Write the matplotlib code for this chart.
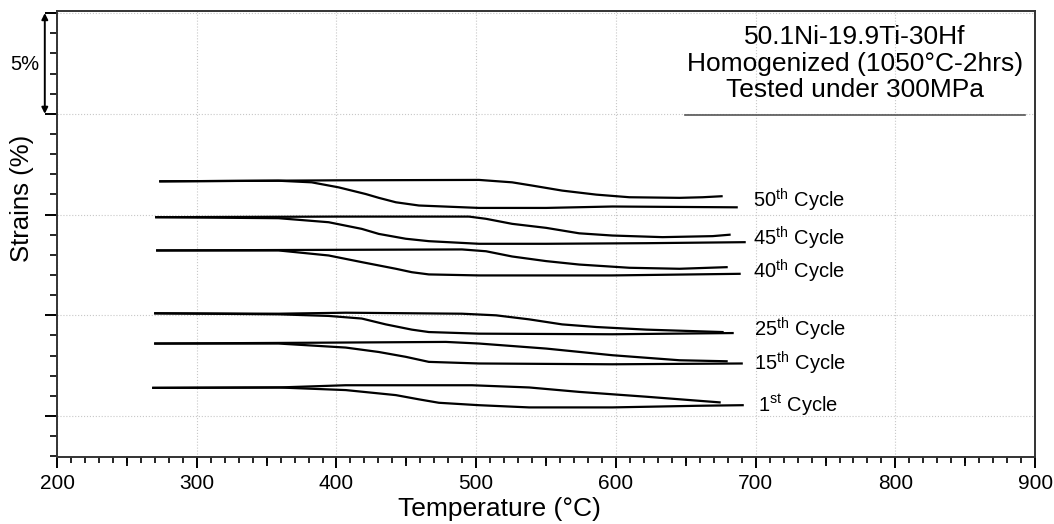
"""
Strain-temperature cycles, 50.1Ni-19.9Ti-30Hf under 300 MPa
"""

import matplotlib
matplotlib.use('Agg')
import matplotlib.pyplot as plt
from matplotlib.ticker import MultipleLocator
import matplotlib.transforms as mtransforms

plt.rcParams['font.family'] = ['Liberation Sans', 'DejaVu Sans']
plt.rcParams['mathtext.fontset'] = 'custom'
plt.rcParams['mathtext.rm'] = 'Liberation Sans'

# ── Data (temperature in °C, strain in %) ──────────────────────
cycle_labels = ['50$^{\\mathrm{th}}$ Cycle', '45$^{\\mathrm{th}}$ Cycle',
                '40$^{\\mathrm{th}}$ Cycle', '25$^{\\mathrm{th}}$ Cycle',
                '15$^{\\mathrm{th}}$ Cycle', '1$^{\\mathrm{st}}$ Cycle']

# upper branch of each loop
t_up_50 = [273.9, 400.0, 502.0, 525.7, 540.0, 561.5, 585.9, 609.6, 645.5, 662.0, 675.6]
s_up_50 = [11.65, 11.70, 11.72, 11.60, 11.44, 11.19, 10.99, 10.86, 10.83, 10.86, 10.91]
# lower branch of each loop
t_lo_50 = [273.9, 358.5, 382.2, 401.6, 420.9, 430.3, 442.5, 459.0, 502.0, 550.1, 597.4, 686.4]
s_lo_50 = [11.65, 11.68, 11.60, 11.35, 11.02, 10.83, 10.61, 10.45, 10.33, 10.33, 10.40, 10.36]

t_up_45 = [271.0, 400.0, 494.8, 507.0, 525.7, 550.1, 573.7, 597.4, 633.3, 669.2, 681.3]
s_up_45 = [9.87, 9.90, 9.90, 9.79, 9.54, 9.34, 9.07, 8.96, 8.88, 8.93, 9.00]
t_lo_45 = [271.0, 358.5, 394.4, 418.1, 430.3, 449.6, 466.1, 502.0, 550.1, 621.8, 692.1]
s_lo_45 = [9.87, 9.82, 9.62, 9.29, 9.04, 8.80, 8.68, 8.55, 8.55, 8.58, 8.63]

t_up_40 = [271.7, 400.0, 489.8, 507.0, 525.7, 550.1, 573.7, 609.6, 645.5, 679.2]
s_up_40 = [8.22, 8.25, 8.27, 8.18, 7.92, 7.69, 7.52, 7.36, 7.31, 7.39]
t_lo_40 = [271.7, 358.5, 394.4, 418.1, 442.5, 453.9, 466.1, 502.0, 597.4, 688.5]
s_lo_40 = [8.22, 8.22, 7.97, 7.64, 7.31, 7.14, 7.03, 6.98, 6.98, 7.06]

t_up_25 = [270.3, 358.5, 406.6, 489.8, 514.2, 537.9, 561.5, 585.9, 621.8, 676.3]
s_up_25 = [5.10, 5.08, 5.13, 5.08, 5.00, 4.80, 4.55, 4.42, 4.29, 4.17]
t_lo_25 = [270.3, 358.5, 394.4, 418.1, 435.3, 453.9, 466.1, 502.0, 597.4, 683.5]
s_lo_25 = [5.10, 5.05, 4.97, 4.84, 4.55, 4.29, 4.17, 4.09, 4.06, 4.12]

t_up_15 = [270.3, 358.5, 478.3, 502.0, 550.1, 597.4, 645.5, 679.2]
s_up_15 = [3.60, 3.63, 3.68, 3.60, 3.35, 3.02, 2.77, 2.72]
t_lo_15 = [270.3, 358.5, 406.6, 430.3, 449.6, 466.1, 502.0, 597.4, 690.0]
s_lo_15 = [3.60, 3.60, 3.40, 3.18, 2.94, 2.69, 2.61, 2.57, 2.61]

t_up_1 = [268.9, 358.5, 406.6, 497.0, 537.9, 573.7, 621.8, 674.2]
s_up_1 = [1.40, 1.42, 1.53, 1.53, 1.42, 1.20, 0.96, 0.68]
t_lo_1 = [268.9, 358.5, 406.6, 442.5, 459.0, 473.3, 502.0, 537.9, 597.4, 657.7, 690.7]
s_lo_1 = [1.40, 1.42, 1.29, 1.04, 0.83, 0.66, 0.54, 0.43, 0.43, 0.51, 0.54]

upper_t = [t_up_50, t_up_45, t_up_40, t_up_25, t_up_15, t_up_1]
upper_s = [s_up_50, s_up_45, s_up_40, s_up_25, s_up_15, s_up_1]
lower_t = [t_lo_50, t_lo_45, t_lo_40, t_lo_25, t_lo_15, t_lo_1]
lower_s = [s_lo_50, s_lo_45, s_lo_40, s_lo_25, s_lo_15, s_lo_1]

label_t = [698, 698, 698, 699, 699, 702]
label_s = [10.69, 8.81, 7.18, 4.31, 2.62, 0.54]

# ── Figure ─────────────────────────────────────────────────────
fig = plt.figure(figsize=(10.54, 5.24), dpi=100)
ax = fig.add_axes([0.0541, 0.1279, 0.928, 0.851])

for tu, su, tl, sl in zip(upper_t, upper_s, lower_t, lower_s):
    ax.plot(tu, su, color='black', linewidth=1.6, solid_joinstyle='round')
    ax.plot(tl, sl, color='black', linewidth=1.6, solid_joinstyle='round')

for lab, t, s in zip(cycle_labels, label_t, label_s):
    ax.text(t, s, lab, fontsize=14.5, ha='left', va='center')

ax.set_xlim(200, 900)
ax.set_ylim(-2.03, 20.1)
ax.xaxis.set_major_locator(MultipleLocator(100))
ax.xaxis.set_minor_locator(MultipleLocator(10))
ax.yaxis.set_major_locator(MultipleLocator(5))
ax.yaxis.set_minor_locator(MultipleLocator(1))
ax.set_yticklabels([])
ax.tick_params(axis='x', which='major', length=8, width=1.4, labelsize=15, pad=4, direction='out')
ax.tick_params(axis='x', which='minor', length=4.5, width=1.2, direction='out')
ax.tick_params(axis='y', which='major', length=9, width=1.4, direction='out')
ax.tick_params(axis='y', which='minor', length=5, width=1.2, direction='out')
ax.grid(True, which='major', color='#c8c8c8', linestyle=':', linewidth=0.8)
for sp in ax.spines.values():
    sp.set_linewidth(1.4)
    sp.set_color('#333333')

# slightly longer ticks halfway between the major ones
sec = ax.secondary_xaxis('bottom')
sec.set_xticks([250, 350, 450, 550, 650, 750, 850])
sec.tick_params(length=6.5, width=1.3, labelbottom=False)
sec.spines['bottom'].set_visible(False)

ax.set_xlabel('Temperature (°C)', fontsize=19)
ax.xaxis.set_label_coords(0.452, -0.09)
ax.set_ylabel('Strains (%)', fontsize=18.5)
ax.yaxis.set_label_coords(-0.024, 0.58)

# scale bar (5 % strain)
trans = mtransforms.blended_transform_factory(ax.transAxes, ax.transData)
ax.annotate('', xy=(-0.0125, 15.0), xytext=(-0.0125, 20.0), xycoords=trans,
            textcoords=trans,
            arrowprops=dict(arrowstyle='<|-|>', color='black', lw=1.4,
                            mutation_scale=9, shrinkA=0, shrinkB=0),
            annotation_clip=False)
ax.text(-0.033, 17.45, '5%', transform=trans, fontsize=14.5, ha='center', va='center')

# sample info
ax.text(0.816, 0.968, '50.1Ni-19.9Ti-30Hf\nHomogenized (1050°C-2hrs)\nTested under 300MPa',
        transform=ax.transAxes, fontsize=19, ha='center', va='top', linespacing=1.13)
ax.plot([0.642, 0.990], [0.767, 0.767], transform=ax.transAxes,
        color='#555555', linewidth=1.2)

plt.savefig('out.png', dpi=100)
plt.close()
